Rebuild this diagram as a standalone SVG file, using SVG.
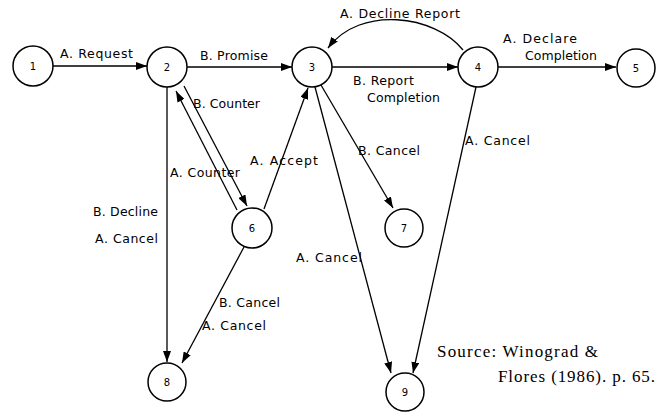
<svg xmlns="http://www.w3.org/2000/svg" width="667" height="412" viewBox="0 0 667 412">
<defs>
<marker id="arr" markerUnits="userSpaceOnUse" markerWidth="11" markerHeight="8" refX="11" refY="4" orient="auto">
<path d="M0,0 L11,4 L0,8 z" fill="#000"/>
</marker>
<style>
.node circle{fill:#fff;stroke:#000;stroke-width:1.5}
.node text{font-family:"DejaVu Sans",sans-serif;font-size:10px;text-anchor:middle;fill:#000}
.edge{fill:none;stroke:#000;stroke-width:1.3;marker-end:url(#arr)}
.lbl{font-family:"DejaVu Sans",sans-serif;font-size:12.5px;fill:#000}
.src{font-family:"Liberation Serif",serif;font-size:17px;fill:#000}
</style>
</defs>
<rect width="667" height="412" fill="#fff"/>
<g id="connectors">
<path class="edge" d="M53,66 L147,66"/>
<path class="edge" d="M187,67 L292,67"/>
<path class="edge" d="M332,67 L458,67"/>
<path class="edge" d="M498,67 L616,67"/>
<path class="edge" d="M463,50 C435,15 360,5 328,48"/>
<path class="edge" d="M167,87 L167,362"/>
<path class="edge" d="M184,86 L247,206"/>
<path class="edge" d="M237,210 L176,91"/>
<path class="edge" d="M264,209 L308,88"/>
<path class="edge" d="M321,85 L393,208"/>
<path class="edge" d="M315,87 L391,373"/>
<path class="edge" d="M476,87 L413,373"/>
<path class="edge" d="M244,247 L182,363"/>
</g>
<g id="labels">
<text class="lbl" x="60" y="58" textLength="73">A. Request</text>
<text class="lbl" x="200" y="60" textLength="68">B. Promise</text>
<text class="lbl" x="340" y="18" textLength="120">A. Decline Report</text>
<text class="lbl" x="353" y="85" textLength="61">B. Report</text>
<text class="lbl" x="367" y="102" textLength="73">Completion</text>
<text class="lbl" x="503" y="43" textLength="74">A. Declare</text>
<text class="lbl" x="525" y="60" textLength="72">Completion</text>
<text class="lbl" x="193" y="108" textLength="67">B. Counter</text>
<text class="lbl" x="170" y="177" textLength="70">A. Counter</text>
<text class="lbl" x="250" y="165" textLength="68">A. Accept</text>
<text class="lbl" x="93" y="216" textLength="65">B. Decline</text>
<text class="lbl" x="95" y="243" textLength="63">A. Cancel</text>
<text class="lbl" x="358" y="155" textLength="62">B. Cancel</text>
<text class="lbl" x="465" y="145" textLength="65">A. Cancel</text>
<text class="lbl" x="296" y="262" textLength="66">A. Cancel</text>
<text class="lbl" x="219" y="307" textLength="61">B. Cancel</text>
<text class="lbl" x="202" y="330" textLength="64">A. Cancel</text>
</g>
<g id="n1" class="node"><circle cx="33" cy="66" r="20"/><text x="33" y="70">1</text></g>
<g id="n2" class="node"><circle cx="167" cy="67" r="20"/><text x="167" y="71">2</text></g>
<g id="n3" class="node"><circle cx="312" cy="67" r="20"/><text x="312" y="71">3</text></g>
<g id="n4" class="node"><circle cx="478" cy="67" r="20"/><text x="478" y="71">4</text></g>
<g id="n5" class="node"><circle cx="636" cy="68" r="19"/><text x="636" y="72">5</text></g>
<g id="n6" class="node"><circle cx="252" cy="228" r="20"/><text x="252" y="232">6</text></g>
<g id="n7" class="node"><circle cx="404" cy="228" r="19"/><text x="404" y="232">7</text></g>
<g id="n8" class="node"><circle cx="167" cy="382" r="19"/><text x="167" y="386">8</text></g>
<g id="n9" class="node"><circle cx="405" cy="392" r="19"/><text x="405" y="396">9</text></g>
<g id="source">
<text class="src" x="437" y="357" textLength="161">Source: Winograd &amp;</text>
<text class="src" x="498" y="382" textLength="157">Flores (1986). p. 65.</text>
</g>
</svg>
